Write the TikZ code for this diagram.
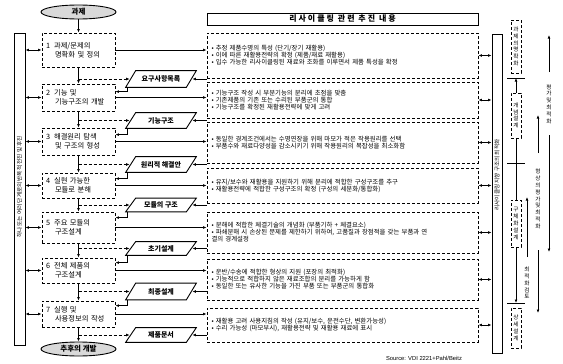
\documentclass[tikz,border=0pt]{standalone}
\usepackage{fontspec}
\setmainfont{Noto Sans CJK KR}
\newfontfamily\hdfont[LetterSpace=25]{Noto Sans CJK KR}
\newfontfamily\srcfont{Liberation Sans}
\usetikzlibrary{shapes.geometric,arrows.meta,calc}
\begin{document}
\begin{tikzpicture}[x=1pt,y=-1pt,line width=0.7pt,
  >={Latex[length=3.5pt,width=2.8pt]},
  stepbox/.style={draw, densely dashed, line width=0.8pt, minimum width=73pt, text width=65pt, inner xsep=4pt, inner ysep=2pt, align=left, font=\fontsize{7.3}{9}\selectfont},
  contbox/.style={draw, densely dashed, line width=0.8pt, minimum width=271pt, text width=262pt, inner xsep=4.5pt, inner ysep=2pt, align=left, font=\fontsize{6.4}{7}\selectfont},
  outbox/.style={minimum width=60pt, inner sep=0pt, font=\fontsize{7}{8}\selectfont\bfseries},
  term/.style={draw, ellipse, fill=gray!30, minimum width=75pt, minimum height=14pt, inner sep=0pt, line width=0.9pt, font=\fontsize{7.5}{8}\selectfont\bfseries},
  bar/.style={draw, minimum width=11pt, inner sep=0pt, line width=0.8pt},
  barlabel/.style={rotate=90, font=\fontsize{5.6}{7}\selectfont, inner sep=0pt},
  phasebox/.style={draw, densely dashed, minimum width=10pt, inner sep=0pt, align=center, font=\fontsize{5.6}{6.8}\selectfont},
  iterlabel/.style={align=center, inner sep=0pt, font=\fontsize{5.6}{6.8}\selectfont},
  branch/.style={->, densely dashed},
  flow/.style={->},
  link/.style={<->}
]
\useasboundingbox (0,0) rectangle (563,364);

% terminals
\node[term] (start) at (78.5,12) {과제};
\node[term] (end) at (78.5,349) {추후의 개발};

% step boxes
\node[stepbox, minimum height=34pt] (s1) at (78.5,50) {1\hspace{4pt}과제/문제의\\\hspace*{9pt}명확화 및 정의};
\node[stepbox, minimum height=27pt] (s2) at (78.5,97.5) {2\hspace{4pt}기능 및\\\hspace*{9pt}기능구조의 개발};
\node[stepbox, minimum height=27pt] (s3) at (78.5,141.5) {3\hspace{4pt}해결원리 탐색\\\hspace*{9pt}및 구조의 형성};
\node[stepbox, minimum height=25pt] (s4) at (78.5,185.5) {4\hspace{4pt}실현 가능한\\\hspace*{9pt}모듈로 분해};
\node[stepbox, minimum height=31pt] (s5) at (78.5,227.5) {5\hspace{4pt}주요 모듈의\\\hspace*{9pt}구조설계};
\node[stepbox, minimum height=25pt] (s6) at (78.5,270.5) {6\hspace{4pt}전체 제품의\\\hspace*{9pt}구조설계};
\node[stepbox, minimum height=26pt] (s7) at (78.5,314) {7\hspace{4pt}실행 및\\\hspace*{9pt}사용정보의 작성};

% outputs (parallelograms)
\node[outbox, minimum height=16pt] (p1) at (161,79) {요구사항목록};
\node[outbox, minimum height=15pt] (p2) at (161,120.5) {기능구조};
\node[outbox, minimum height=15pt] (p3) at (161,164.5) {원리적 해결안};
\node[outbox, minimum height=13pt] (p4) at (161,205) {모듈의 구조};
\node[outbox, minimum height=13pt] (p5) at (161,248.5) {초기설계};
\node[outbox, minimum height=16pt] (p6) at (161,291.5) {최종설계};
\node[outbox, minimum height=14pt] (p7) at (161,335) {제품문서};
\foreach \k in {1,...,7}{
  \draw[line width=0.9pt] ($(p\k.south west)+(-5,0)$) -- ($(p\k.north west)+(5,0)$) -- ($(p\k.north east)+(5,0)$) -- ($(p\k.south east)+(-5,0)$) -- cycle;
}

% header and content boxes
\node[draw, minimum width=271pt, minimum height=12pt, inner sep=0pt, font=\hdfont\fontsize{8}{9}\selectfont\bfseries] (hd) at (342.5,19) {리사이클링 관련 추진 내용};
\draw[line width=1.5pt] (hd.south west) -- (hd.south east) -- (hd.north east);

\node[contbox, minimum height=45pt] (c1) at (342.5,55.5) {• 추정 제품수명의 특성 (단기/장기 재활용)\\• 이에 따른 재활용전략의 확정 (제품/재료 재활용)\\• 입수 가능한 리사이클링된 재료와 조화를 이루면서 제품 특성을 확정};
\node[contbox, minimum height=36pt] (c2) at (342.5,100) {• 기능구조 작성 시 부분기능의 분리에 초점을 맞춤\\• 기존제품의 기존 또는 수리된 부품군의 통합\\• 기능구조를 확정된 재활용전략에 맞게 고려};
\node[contbox, minimum height=41pt] (c3) at (342.5,142.5) {• 동일한 경계조건에서는 수명연장을 위해 마모가 적은 작용원리를 선택\\• 부품수와 재료다양성을 감소시키기 위해 작용원리의 복잡성을 최소화함};
\node[contbox, minimum height=35pt] (c4) at (342.5,185.5) {• 유지/보수와 재활용을 지원하기 위해 분리에 적합한 구성구조를 추구\\• 재활용전략에 적합한 구성구조의 확정 (구성의 세분화/통합화)};
\node[contbox, minimum height=41pt] (c5) at (342.5,232.5) {• 분해에 적합한 체결기술의 개념화 (부품기하 + 체결요소)\\• 파쇄분해 시 손상된 문제를 제한하기 위하여, 고품질과 장점적을 갖는 부품과 연\\결의 경계설정};
\node[contbox, minimum height=41pt] (c6) at (342.5,279.5) {• 운반/수송에 적합한 형상의 지원 (포장의 최적화)\\• 기능적으로 적합하지 않은 재료조합의 분리를 가능하게 함\\• 동일한 또는 유사한 기능을 가진 부품 또는 부품군의 통합화};
\node[contbox, minimum height=34pt] (c7) at (342.5,325) {• 재활용 고려 사용지침의 작성 (유지/보수, 운전수단, 변환가능성)\\• 수리 가능성 (마모부시), 재활용전략 및 재활용 재료에 표시};

% bars
\node[bar, minimum height=312pt] (lb) at (19.5,189) {};
\node[barlabel] (lbt) at (19.5,187) {하나 또는 여러 단계로의 반복적 전진 및 후진};
\node[bar, minimum width=10pt, minimum height=319pt] (rb) at (497,193.5) {};
\node[barlabel] (rbt) at (497,175) {리사이클링 지향 구조의 최적화};

% main flow
\draw[flow] (start) -- (s1);
\draw[flow] (s1) -- (s2);
\draw[flow] (s2) -- (s3);
\draw[flow] (s3) -- (s4);
\draw[flow] (s4) -- (s5);
\draw[flow] (s5) -- (s6);
\draw[flow] (s6) -- (s7);
\draw[flow] (s7) -- (end);

\foreach \k in {1,...,7}{
  \draw[branch] (s\k.south |- p\k.west) -- ($(p\k.west)+(-1,0)$);
  \draw[flow] (s\k.east) -- (c\k.west |- s\k.east);
  \draw[flow] (c\k.west |- p\k.east) -- ($(p\k.east)+(1,0)$);
  \draw[link] (lb.east |- s\k.west) -- (s\k.west);
  \draw[link] (c\k.east) -- (rb.west |- c\k.east);
}
% outputs feeding next step
\draw[flow] ($(p1.south west)+(-3,0)$) |- ($(s2.north east)+(0,8)$);
\draw[flow] ($(p2.south west)+(-3,0)$) |- ($(s3.north east)+(0,7)$);
\draw[flow] ($(p3.south west)+(-3,0)$) |- ($(s4.north east)+(0,6)$);
\draw[flow] ($(p4.south west)+(-3,0)$) |- ($(s5.north east)+(0,6)$);
\draw[flow] ($(p5.south west)+(-3,0)$) |- ($(s6.north east)+(0,5)$);
\draw[flow] ($(p6.south west)+(-3,0)$) |- ($(s7.north east)+(0,5)$);

% phases
\node[phasebox, minimum height=53pt] (ph1) at (516,46.5) {과\\제\\의\\명\\확\\화};
\node[phasebox, minimum height=45pt] (ph2) at (516,115.5) {개\\념\\설\\계};
\node[phasebox, minimum height=47pt] (ph3) at (516,223.5) {구\\체\\화\\설\\계};
\node[phasebox, minimum height=40pt] (ph4) at (516,328) {상\\세\\설\\계};
\coordinate (t1) at (516,78);
\coordinate (t2) at (516,163);
\coordinate (t3) at (516,303);
\foreach \t in {t1,t2,t3}{ \draw ($(\t)+(-9,0)$) -- ($(\t)+(9,0)$); }
\draw[flow] (ph2.north) -- (t1);
\draw (ph2.south) -- (ph3.north);
\draw[flow] (ph3.south) -- (t3);

% iteration arrows
\coordinate (ca1) at (549,72); \coordinate (ca2) at (549,35);
\coordinate (ca3) at (549,135); \coordinate (ca4) at (549,252);
\draw[flow] (ca1) -- (ca2);
\node[iterlabel] (it1) at (549,104) {평\\가\\및\\최\\적\\화};
\draw[flow] (ca3) -- (ca4);
\coordinate (cb1) at (538,153); \coordinate (cb2) at (538,115);
\coordinate (cb3) at (538,250); \coordinate (cb4) at (538,313);
\draw[flow] (cb1) -- (cb2);
\node[iterlabel] (it2) at (538,199) {형\\상\\의\\평\\가\\및\\최\\적\\화};
\draw[flow] (cb3) -- (cb4);
\coordinate (cc1) at (527,257); \coordinate (cc2) at (527,197);
\draw[flow] (cc1) -- (cc2);
\node[iterlabel] (it3) at (527,283) {최\\적\\화\\검\\토};

% source
\node[font=\srcfont\fontsize{5.8}{7}\selectfont, inner sep=0pt] (src) at (424,358) {Source: VDI 2221+Pahl/Beitz};
\end{tikzpicture}
\end{document}
